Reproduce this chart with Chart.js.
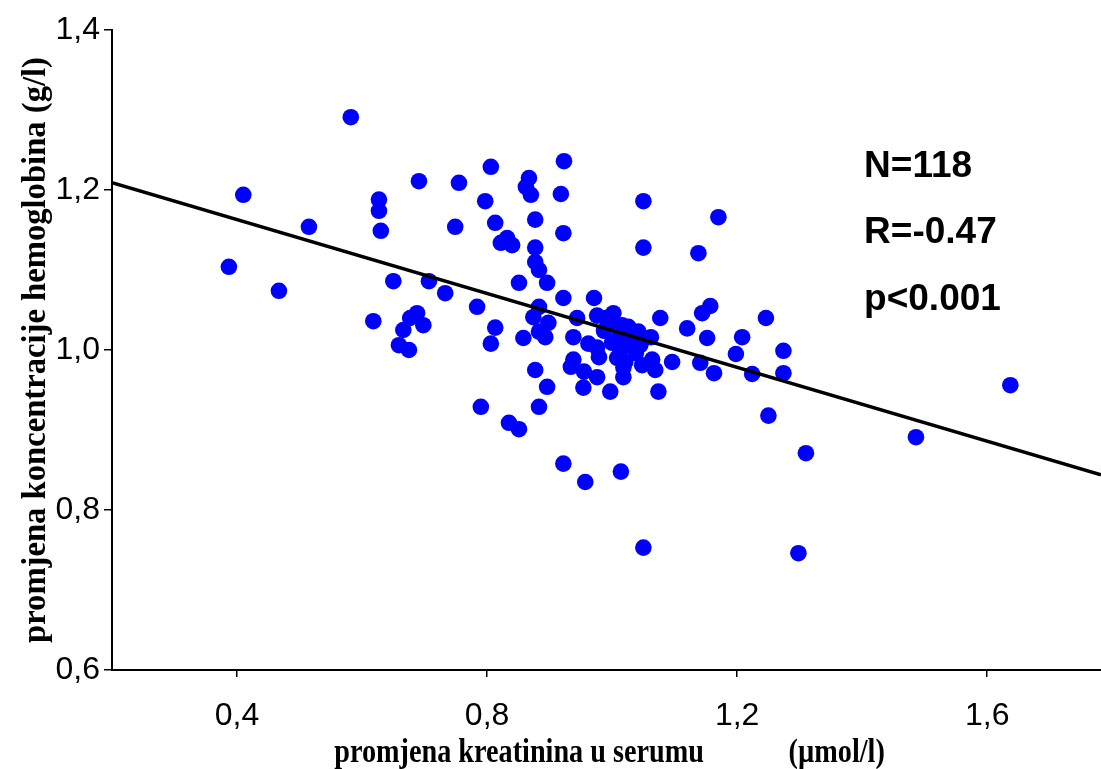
<!DOCTYPE html>
<html>
<head>
<meta charset="utf-8">
<script src="https://cdn.jsdelivr.net/npm/chart.js@4/dist/chart.umd.min.js"></script>
<style>
  body { margin: 0; background: #fff; overflow: hidden; }
  #wrap { width: 1101px; height: 769px; }
  canvas { display: block; }
</style>
</head>
<body>
<div id="wrap"><canvas id="scatter" width="1101" height="769"></canvas></div>
<script>
// kreatinin (x) / hemoglobin (y) pairs
const kreatinin = [
  0.582, 0.410, 0.387, 0.467, 0.515, 0.627, 0.627, 0.630, 0.650, 0.618,
  0.688, 0.677, 0.698, 0.666, 0.659, 0.675, 0.691, 0.707, 0.733, 0.755,
  0.749, 0.784, 0.790, 0.797, 0.806, 0.813, 0.806, 0.813, 0.822, 0.832,
  0.840, 0.835, 0.851, 0.851, 0.858, 0.867, 0.862, 0.870, 0.877, 0.877,
  0.877, 0.883, 0.896, 0.883, 0.874, 0.898, 0.883, 0.893, 0.877, 0.896,
  0.883, 0.918, 0.923, 0.922, 0.922, 0.922, 0.944, 0.938, 0.938, 0.934,
  0.955, 0.954, 0.957, 0.962, 0.971, 0.976, 0.976, 0.979, 0.976, 0.997,
  1.002, 0.997, 1.016, 1.026, 1.042, 1.062, 1.010, 1.013, 1.032, 1.021,
  1.018, 1.018, 1.048, 1.064, 1.069, 1.077, 1.096, 1.074, 1.014, 1.050,
  1.050, 1.050, 1.138, 1.170, 1.157, 1.144, 1.120, 1.152, 1.141, 1.163,
  1.208, 1.198, 1.224, 1.246, 1.250, 1.274, 1.274, 1.310, 1.298, 1.486,
  1.637, 1.022, 1.000, 1.038, 0.987, 1.008, 1.045, 0.990
];
const hemoglobin = [
  1.291, 1.194, 1.104, 1.074, 1.154, 1.188, 1.174, 1.149, 1.086, 1.036,
  1.046, 1.040, 1.031, 1.025, 1.006, 1.000, 1.211, 1.086, 1.071, 1.209,
  1.154, 1.054, 0.929, 1.186, 1.229, 1.159, 1.008, 1.028, 1.134, 1.140,
  1.131, 0.909, 0.901, 1.084, 1.015, 1.215, 1.204, 1.194, 1.163, 1.128,
  1.110, 1.100, 1.084, 1.054, 1.041, 1.034, 1.023, 1.016, 0.975, 0.954,
  0.929, 1.195, 1.236, 1.146, 1.065, 0.858, 1.040, 1.016, 0.988, 0.979,
  0.973, 0.953, 0.835, 1.008, 1.065, 1.043, 1.003, 0.991, 0.966, 0.948,
  1.046, 1.034, 1.031, 1.029, 1.023, 1.016, 1.015, 1.000, 1.006, 0.985,
  0.978, 0.966, 0.981, 0.988, 0.975, 1.040, 0.985, 0.948, 0.848, 0.753,
  1.186, 1.128, 1.121, 1.166, 1.055, 1.046, 1.027, 1.015, 0.984, 0.971,
  1.016, 0.995, 0.970, 1.040, 0.918, 0.999, 0.971, 0.871, 0.746, 0.891,
  0.956, 1.012, 1.009, 0.996, 1.024, 0.990, 1.006, 1.040
];

// regression line end points (at the axis ends)
const fitX = [0.2, 1.782];
const fitY = [1.209, 0.844];

const xTicks = [0.4, 0.8, 1.2, 1.6];
const yTicks = [0.6, 0.8, 1.0, 1.2, 1.4];

const statLines = ['N=118', 'R=-0.47', 'p<0.001'];
const statX = 1.403;
const statY = [1.229, 1.146, 1.0625];

const xTitle = 'promjena kreatinina u serumu            (\u00b5mol/l)';
const yTitle = 'promjena koncentracije hemoglobina (g/l)';

let points = kreatinin.map(function(k, i) { return { x: k, y: hemoglobin[i] }; });
let fitPoints = fitX.map(function(v, i) { return { x: v, y: fitY[i] }; });

function comma(v) {
    return v.toFixed(1).replace('.', ',');
}

// axis titles and the N / R / p text
const extraText = {
    id: 'extraText',
    afterDraw(chart) {
        const ctx = chart.ctx;
        const area = chart.chartArea;
        const sx = chart.scales.x, sy = chart.scales.y;
        ctx.save();
        ctx.fillStyle = '#000';

        // x title, narrow serif
        ctx.font = 'bold 34px "Liberation Serif", "Times New Roman", serif';
        ctx.textAlign = 'center';
        ctx.textBaseline = 'alphabetic';
        ctx.save();
        ctx.translate((area.left + area.right) / 2 + 3, 762);
        ctx.scale(0.83, 1);
        ctx.fillText(xTitle, 0, 0);
        ctx.restore();

        // y title
        ctx.save();
        ctx.translate(45, (area.top + area.bottom) / 2);
        ctx.rotate(-Math.PI / 2);
        ctx.scale(0.96, 1);
        ctx.fillText(yTitle, 0, 0);
        ctx.restore();

        ctx.font = 'bold 37px "Liberation Sans", Arial, sans-serif';
        ctx.textAlign = 'left';
        ctx.textBaseline = 'middle';
        statLines.forEach(function(t, i) {
            ctx.fillText(t, sx.getPixelForValue(statX), sy.getPixelForValue(statY[i]));
        });
        ctx.restore();
    }
};

new Chart(document.getElementById('scatter'), {
    type: 'scatter',
    data: {
        datasets: [{
            type: 'line',
            data: fitPoints,
            borderColor: '#000',
            borderWidth: 3.5,
            pointRadius: 0,
            fill: false,
            order: 0
        }, {
            data: points,
            backgroundColor: '#0000ff',
            borderColor: '#0000ff',
            borderWidth: 0,
            pointRadius: 8.3,
            order: 1
        }]
    },
    options: {
        responsive: false,
        animation: false,
        devicePixelRatio: 1,
        layout: { autoPadding: false, padding: { top: 30, right: 0, left: 0, bottom: 0 } },
        plugins: {
            legend: { display: false },
            tooltip: { enabled: false }
        },
        scales: {
            x: {
                type: 'linear',
                min: 0.2,
                max: 1.782,
                afterBuildTicks: function(scale) {
                    scale.ticks = xTicks.map(function(v) { return { value: v }; });
                },
                afterFit: function(scale) {
                    scale.height = 99;
                    scale.paddingLeft = 0;
                    scale.paddingRight = 0;
                },
                grid: { drawOnChartArea: false, drawTicks: true, tickLength: 7, color: '#000', lineWidth: 1.5 },
                border: { color: '#000', width: 2 },
                ticks: {
                    autoSkip: false,
                    maxRotation: 0,
                    padding: 20,
                    color: '#000',
                    font: { family: '"Liberation Sans", Arial, sans-serif', size: 32 },
                    callback: function(v) { return comma(v); }
                }
            },
            y: {
                type: 'linear',
                min: 0.6,
                max: 1.4,
                afterBuildTicks: function(scale) {
                    scale.ticks = yTicks.map(function(v) { return { value: v }; });
                },
                afterFit: function(scale) { scale.width = 112; },
                grid: { drawOnChartArea: false, drawTicks: true, tickLength: 8, color: '#000', lineWidth: 1.5 },
                border: { color: '#000', width: 2 },
                ticks: {
                    autoSkip: false,
                    padding: 4,
                    color: '#000',
                    font: { family: '"Liberation Sans", Arial, sans-serif', size: 32 },
                    callback: function(v) { return comma(v); }
                }
            }
        }
    },
    plugins: [extraText]
});
</script>
</body>
</html>
